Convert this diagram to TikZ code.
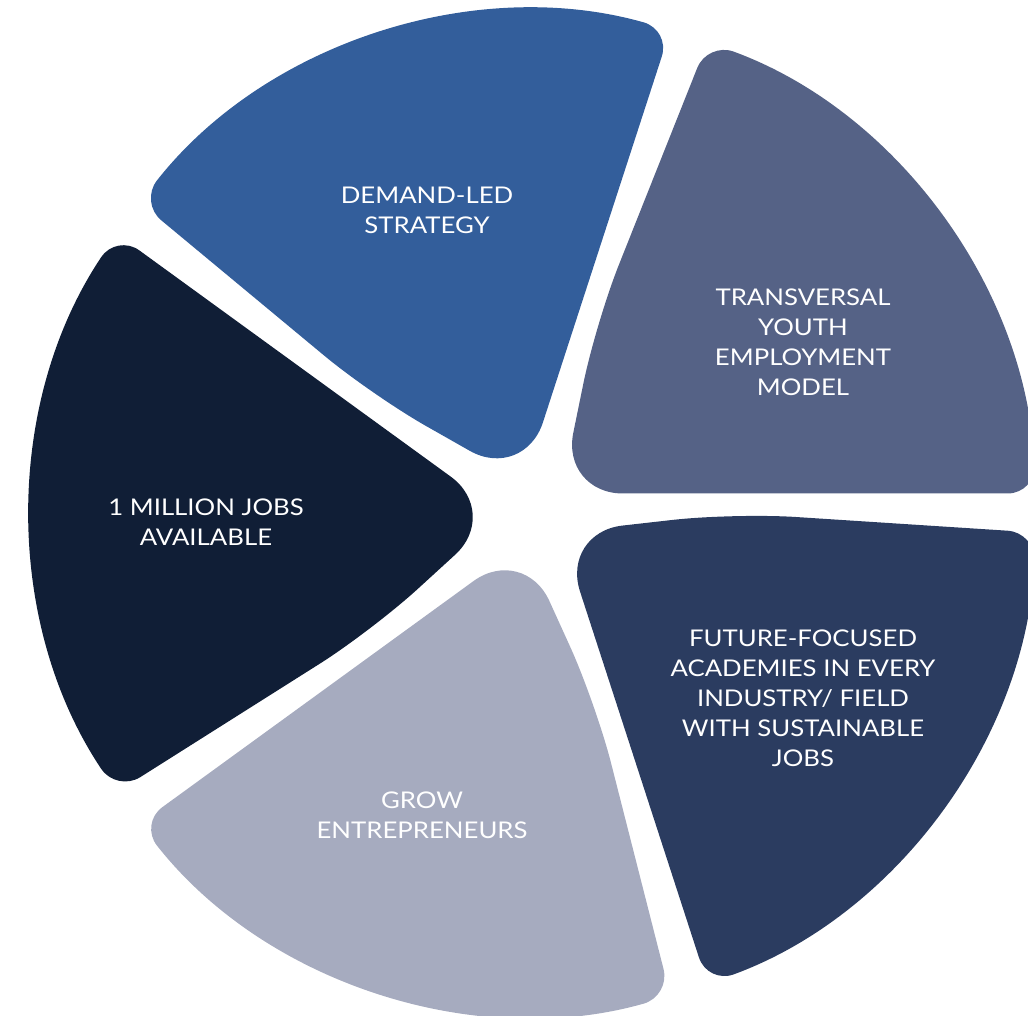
\documentclass[tikz,border=0pt]{standalone}
\usepackage{fontspec}
\setmainfont{Lato}[FakeStretch=1.12]
\usetikzlibrary{calc}

\definecolor{demandblue}{HTML}{335E9B}
\definecolor{modelslate}{HTML}{556286}
\definecolor{academynavy}{HTML}{2B3C60}
\definecolor{growgrey}{HTML}{A6ABBF}
\definecolor{jobsnavy}{HTML}{101E36}

% one slice of the pie: #1 = mid angle, #2 = colour
\newcommand{\pieslice}[2]{%
  \fill[#2] ($(ctr)+(#1-36:200)$) [rounded corners=28]
    -- ($(ctr)+(#1-33.77:502)$)
    arc[start angle=#1-33.77, end angle=#1+33.77, radius=502]
    [rounded corners=62] -- ($(ctr)+(#1:33.2)$) -- cycle;}

\tikzset{
  slicetext/.style={text=white, align=center, inner sep=0pt,
    font=\fontsize{23}{30}\selectfont}
}

\begin{document}
\begin{tikzpicture}[x=1pt,y=1pt,yscale=-1,xscale=1]
\useasboundingbox (0,0) rectangle (1028,1016);
\coordinate (ctr) at (534,513);

\pieslice{-108}{demandblue}
\pieslice{-36}{modelslate}
\pieslice{36}{academynavy}
\pieslice{108}{growgrey}
\pieslice{180}{jobsnavy}

\node[slicetext] (demand) at (427,210) {DEMAND-LED\\STRATEGY};
\node[slicetext] (youth) at (803,342) {TRANSVERSAL\\YOUTH\\EMPLOYMENT\\MODEL};
\node[slicetext] (academies) at (803,698) {FUTURE-FOCUSED\\ACADEMIES IN EVERY\\INDUSTRY/ FIELD\\WITH SUSTAINABLE\\JOBS};
\node[slicetext] (grow) at (422,815) {GROW\\ENTREPRENEURS};
\node[slicetext] (jobs) at (206,522) {1 MILLION JOBS\\AVAILABLE};
\end{tikzpicture}
\end{document}
